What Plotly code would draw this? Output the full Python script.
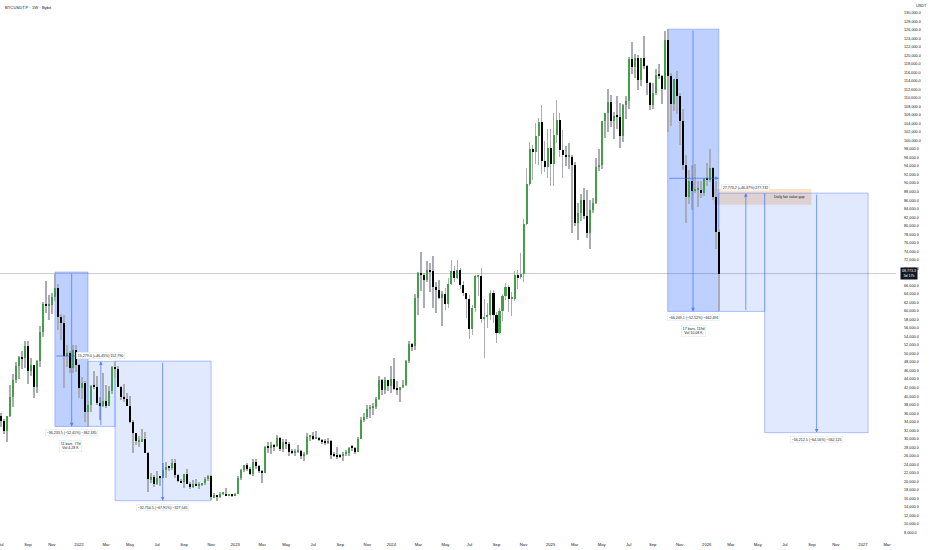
import plotly.graph_objects as go
import pandas as pd

# ---------------- data (weekly candles) ----------------
title_text = "BTCUSDT.P · 1W · Bybit"
week_start = "2021-07-05"
first_open = 35300
highs = [
    35950, 34700, 35400, 42600, 45300, 48100, 49400, 50500, 52950, 52900, 48850, 47300, 48500,
    56550, 62000, 67000, 63700, 64300, 69000, 66300, 59300, 59150, 51950, 50500, 52100, 52100,
    47550, 44450, 43500, 38900, 42650, 45850, 44750, 39850, 45400, 42600, 42350, 47000, 48190,
    47200, 42400, 42950, 40800, 40000, 34300, 31300, 30600, 32200, 31700, 26800, 21900, 21500,
    22500, 21000, 24300, 24650, 23650, 25200, 25200, 21850, 20600, 21850, 22800, 19950, 20350,
    20450, 19950, 19700, 21000, 21450, 21500, 17200, 16800, 17400, 17450, 18400, 17100, 16950,
    17200, 21300, 23000, 23950, 24250, 23450, 25250, 25250, 23900, 22600, 28400, 29200, 29150,
    28800, 31000, 30500, 30050, 29850, 29200, 27650, 27500, 28450, 27300, 26800, 31400, 31000,
    31500, 31800, 30400, 29950, 30000, 30250, 29700, 26800, 28150, 26450, 26850, 27450, 28050,
    28600, 28000, 30350, 35200, 35950, 38000, 37950, 38400, 39700, 44750, 44000, 44400, 43800,
    47000, 49050, 43600, 42250, 43850, 48600, 52850, 52500, 64000, 69150, 73800, 68950, 71800,
    71350, 72800, 66900, 67250, 64750, 65500, 67700, 71950, 70600, 71950, 70200, 66950, 63350,
    63800, 61400, 68350, 68500, 70000, 62700, 61800, 65000, 64950, 59800, 60650, 64100, 66500,
    66000, 64450, 69400, 69500, 73600, 81500, 93450, 99600, 98850, 104000, 105250, 108350, 99950,
    102750, 102700, 106400, 109600, 106450, 102500, 98800, 99500, 96500, 95000, 85300, 87450, 88800,
    88500, 86100, 86450, 95800, 97900, 104350, 105800, 112000, 110700, 106800, 110500, 108900, 108500,
    110500, 119500, 123200, 120200, 120000, 119400, 124450, 117650, 113800, 113400, 116700, 117900, 115400,
    125700, 126200, 115950, 114000, 116400, 111200, 107500, 96650, 93100, 94150, 94600, 90400, 90500,
    91200, 94800, 97900, 93800, 90500, 79300,
]
lows = [
    32700, 31100, 29280, 35200, 37500, 43000, 43950, 46350, 46550, 42800, 44700, 39600, 40750,
    46900, 53900, 59550, 57800, 59400, 62300, 55600, 53250, 42000, 46750, 45450, 45550, 45700,
    39650, 39300, 34000, 32900, 36250, 41650, 38000, 34300, 37450, 37150, 37600, 40500, 44300,
    42100, 39200, 38550, 37600, 33700, 26700, 28650, 28000, 29300, 26600, 17600, 19650, 18650,
    19250, 18900, 20750, 20700, 22400, 22700, 20800, 19800, 19550, 18550, 19350, 18150, 18500,
    19000, 18200, 18900, 19250, 20050, 15600, 16200, 15480, 16000, 16750, 16550, 16550, 16350,
    16550, 17000, 20400, 22300, 22500, 21400, 21350, 22800, 21950, 19550, 21900, 26600, 26500,
    27200, 28150, 27150, 26950, 27700, 25850, 26350, 25900, 26600, 25350, 24800, 26250, 29500,
    29700, 29950, 29500, 28850, 28600, 28750, 25200, 25800, 25350, 25400, 24900, 26000, 26000,
    27200, 26550, 26900, 29850, 33950, 34550, 34850, 35650, 36900, 39000, 40200, 40550, 41300,
    40750, 41500, 40300, 38550, 41900, 42300, 47700, 50600, 50900, 59000, 64600, 60750, 66800,
    64500, 60650, 59600, 62800, 56550, 60200, 60750, 66100, 66700, 67600, 65050, 63400, 58400,
    53500, 54250, 59700, 63450, 57250, 49000, 56100, 57850, 57200, 52550, 54600, 57550, 62650,
    59850, 58900, 62450, 65050, 67500, 66850, 80250, 89400, 90800, 94500, 94150, 92200, 92550,
    91300, 89250, 89300, 99500, 96150, 91250, 94100, 93400, 78200, 80000, 76600, 81200, 81600,
    77100, 74500, 83100, 85150, 92800, 93400, 100700, 102000, 103100, 100400, 102700, 98200, 99700,
    105100, 107500, 115700, 114700, 111900, 112700, 116800, 110600, 107250, 107300, 110600, 114400, 108600,
    111950, 102000, 103500, 106900, 106300, 98950, 93000, 80550, 85200, 83800, 87600, 84500, 86400,
    86900, 89300, 90200, 86000, 74500, 59900,
]
closes = [
    34250, 31780, 35400, 39850, 43800, 47050, 49300, 48900, 51750, 46000, 47250, 42200, 48200,
    54950, 61550, 61300, 61300, 63300, 65500, 58650, 57250, 49400, 50100, 46700, 50800, 47300,
    41850, 43100, 36250, 37900, 42400, 42200, 38400, 37700, 38800, 37800, 41300, 46800, 46400,
    42150, 39700, 39450, 37650, 34050, 31300, 29450, 29450, 29900, 26600, 20550, 21000, 19300,
    20850, 20800, 22600, 23300, 23200, 24300, 21500, 20050, 19800, 21800, 19400, 18800, 19300,
    19050, 19250, 19550, 20600, 21300, 16300, 16700, 16450, 17100, 17100, 16750, 16850, 16600,
    17100, 20900, 22700, 23750, 22950, 21800, 24600, 23500, 22400, 22000, 28000, 27950, 28450,
    28300, 30300, 27600, 29250, 28850, 26900, 26750, 27100, 27100, 25850, 26500, 30500, 30600,
    30150, 30300, 29800, 29250, 29050, 29400, 26100, 26000, 25900, 25850, 26550, 26600, 27950,
    27900, 26900, 29900, 34500, 35000, 37050, 37400, 37450, 39450, 43800, 41350, 43700, 42300,
    43950, 41750, 41600, 42050, 42600, 48300, 52150, 51700, 63100, 68950, 68400, 67200, 69650,
    69350, 65650, 64950, 63100, 63900, 61550, 66250, 69300, 67750, 69650, 66200, 64250, 62700,
    55850, 60800, 68200, 68250, 58100, 58700, 58950, 64150, 58950, 54850, 60000, 63600, 65600,
    62850, 62850, 68350, 67950, 68750, 80350, 89850, 97900, 97200, 101150, 104450, 95300, 93700,
    98300, 94500, 101300, 104800, 97700, 96500, 96150, 96250, 94250, 80700, 83000, 86100, 82400,
    78350, 83750, 85300, 93750, 94300, 104600, 106450, 109000, 104600, 105700, 105600, 100950, 108350,
    109200, 119100, 117300, 119450, 114200, 119300, 117450, 113500, 108250, 111150, 115350, 115250, 112150,
    123500, 115150, 108650, 114500, 110550, 104700, 94200, 86800, 90400, 88200, 88400, 88500, 87800,
    90900, 90800, 93500, 86700, 78600, 68773.3,
]

# price axis / time axis labels
price_ticks = [v for v in range(8000, 130001, 2000) if v != 68000]
axis_unit = "USDT"
last_price_text = "68,773.3<br>3d 17h"

# drawings (TradingView measuring tools)
range_tools = [
    # (x0, x1, p_top, p_bottom, arrow_x, arrow_dir, fill_alpha, hline_price)
    ("2021-11-08", "2022-01-24", 69135, 32901.5, "2021-12-17", "down", 0.30, 49430),
    ("2022-01-24", "2022-03-28", 48180, 32901.5, "2022-02-23", "up", 0.14, None),
    ("2022-03-28", "2022-11-07", 48230, 15475.5, "2022-07-17", "down", 0.14, None),
    ("2025-10-06", "2026-02-02", 126141, 59891.9, "2025-12-04", "down", 0.30, 91140),
    ("2026-02-02", "2026-05-20", 87665, 59891.9, "2026-04-06", "up", 0.14, None),
    ("2026-05-20", "2027-01-16", 87665, 31452, "2026-09-18", "down", 0.14, None),
]
range_labels = [
    "\u221236,233.5 (\u221252.41%) \u2212362,335",
    "15,279.0 (+46.45%) 152,790",
    "\u221232,754.5 (\u221267.91%) \u2212327,545",
    "\u221266,249.1 (\u221252.52%) \u2212662,491",
    "27,773.2 (+46.37%) 277,732",
    "\u221256,212.5 (\u221264.16%) \u2212562,125",
]
bars_labels = [
    ("2021-12-14", 32901.5, "11 bars, 77d<br>Vol 4.28 K"),
    ("2025-12-04", 59891.9, "17 bars, 119d<br>Vol 10.08 K"),
]
fvg_zone = ("2026-01-21", "2026-09-06", 88600, 84900)
fvg_text = "Daily fair value gap"
last_price = closes[-1]

x_range = ["2021-07-03", "2027-03-22"]
y_range = [6249, 132980]

# ---------------- build ----------------
dates = pd.date_range(week_start, periods=len(closes), freq="7D")
opens = [first_open] + closes[:-1]
DAY = 86400000

up_x, up_b, up_h, dn_x, dn_b, dn_h = [], [], [], [], [], []
for d, o, c in zip(dates, opens, closes):
    lo, hi = min(o, c), max(o, c)
    h = max(hi - lo, 250)
    if c >= o:
        up_x.append(d); up_b.append(lo); up_h.append(h)
    else:
        dn_x.append(d); dn_b.append(lo); dn_h.append(h)

fig = go.Figure()
fig.add_trace(go.Bar(x=dates, y=[h - l for h, l in zip(highs, lows)], base=lows,
                     width=2.0 * DAY, marker=dict(color="#a9acb3", line=dict(width=0)),
                     hoverinfo="skip"))
fig.add_trace(go.Bar(x=up_x, y=up_h, base=up_b, width=4.7 * DAY,
                     marker=dict(color="#43a047", line=dict(width=0)), hoverinfo="skip"))
fig.add_trace(go.Bar(x=dn_x, y=dn_h, base=dn_b, width=4.7 * DAY,
                     marker=dict(color="#000000", line=dict(width=0)), hoverinfo="skip"))

shapes = []
annotations = []
BLUE = "41,98,255"
FONT = "Liberation Sans"

shapes.append(dict(type="line", xref="paper", x0=0, x1=1, yref="y", y0=last_price, y1=last_price,
                   line=dict(color="#b2b5be", width=0.7), layer="below"))

shapes.append(dict(type="rect", xref="x", yref="y", x0=fvg_zone[0], x1=fvg_zone[1],
                   y0=fvg_zone[3], y1=fvg_zone[2], fillcolor="rgba(245,166,80,0.30)",
                   line=dict(width=0), layer="below"))
annotations.append(dict(x=fvg_zone[1], y=(fvg_zone[2] + fvg_zone[3]) / 2, xref="x", yref="y",
                        text=fvg_text, showarrow=False, xanchor="right", xshift=-4,
                        font=dict(size=3.6, color="#131722", family=FONT)))

for (x0, x1, pt, pb, ax_, dirn, alpha, hp), lab in zip(range_tools, range_labels):
    shapes.append(dict(type="rect", xref="x", yref="y", x0=x0, x1=x1, y0=pb, y1=pt,
                       fillcolor=f"rgba({BLUE},{alpha})",
                       line=dict(color=f"rgba({BLUE},0.45)", width=0.8), layer="below"))
    if dirn == "down":
        head, tail = pb, pt
    else:
        head, tail = pt, pb
    annotations.append(dict(x=ax_, y=head, ax=ax_, ay=tail, xref="x", yref="y", axref="x", ayref="y",
                            text="", showarrow=True, arrowhead=2, arrowsize=0.9, arrowwidth=0.8,
                            arrowcolor=f"rgba({BLUE},0.75)"))
    if hp is not None:
        annotations.append(dict(x=x1, y=hp, ax=x0, ay=hp, xref="x", yref="y", axref="x", ayref="y",
                                text="", showarrow=True, arrowhead=2, arrowsize=0.9, arrowwidth=0.8,
                                arrowcolor=f"rgba({BLUE},0.75)"))
    if dirn == "down":
        annotations.append(dict(x=ax_, y=pb, xref="x", yref="y", text=lab, showarrow=False,
                                yanchor="top", yshift=-3, bgcolor="white", bordercolor="#e0e3eb",
                                borderwidth=0.5, borderpad=1.2,
                                font=dict(size=3.6, color="#131722", family=FONT)))
    else:
        annotations.append(dict(x=ax_, y=pt, xref="x", yref="y", text=lab, showarrow=False,
                                yanchor="bottom", yshift=2, bgcolor="white", bordercolor="#e0e3eb",
                                borderwidth=0.5, borderpad=1.2,
                                font=dict(size=3.6, color="#131722", family=FONT)))

for bx, bp, bt in bars_labels:
    annotations.append(dict(x=bx, y=bp, xref="x", yref="y", text=bt, showarrow=False,
                            yanchor="top", yshift=-14, bgcolor="white", bordercolor="#e0e3eb",
                            borderwidth=0.5, borderpad=1.2,
                            font=dict(size=3.6, color="#131722", family=FONT)))

annotations.append(dict(x=0.003, y=0.995, xref="paper", yref="paper", text=title_text,
                        showarrow=False, xanchor="left", yanchor="top",
                        font=dict(size=4.2, color="#131722", family=FONT)))
annotations.append(dict(x=1, y=1, xref="paper", yref="paper", text=axis_unit,
                        showarrow=False, xanchor="left", yanchor="top", xshift=18, yshift=-2,
                        font=dict(size=3.8, color="#131722", family=FONT)))
annotations.append(dict(x=1, y=last_price, xref="paper", yref="y", text=last_price_text,
                        showarrow=False, xanchor="left", xshift=4, bgcolor="#131722",
                        borderpad=1, font=dict(size=3.6, color="white", family=FONT)))

# time axis labels sit on the first weekly bar of every second month
month_starts = pd.date_range("2021-07-01", "2027-05-01", freq="2MS")
tick_dates = [m + pd.Timedelta(days=(7 - m.weekday()) % 7) for m in month_starts]
tick_text = [str(m.year) if m.month == 1 else m.strftime("%b") for m in month_starts]

fig.update_layout(
    width=932, height=550,
    margin=dict(l=0, r=36, t=0, b=10),
    paper_bgcolor="white", plot_bgcolor="white",
    barmode="overlay", showlegend=False, bargap=0,
    shapes=shapes, annotations=annotations,
    font=dict(family=FONT, size=4, color="#131722"),
    xaxis=dict(type="date", range=x_range, tickvals=tick_dates, ticktext=tick_text,
               showgrid=False, zeroline=False, showline=False, ticks="", automargin=False,
               ticklabeloverflow="allow",
               tickfont=dict(size=4.2, color="#131722"), ticklabelstandoff=1),
    yaxis=dict(side="right", range=y_range, tickvals=price_ticks, automargin=False,
               ticktext=[f"{v:,.1f}" for v in price_ticks], showgrid=False, zeroline=False,
               showline=False, ticks="", tickfont=dict(size=3.8, color="#131722"),
               ticklabelstandoff=7),
)

fig.write_html("out.html", config={"displayModeBar": False},
               post_script="document.body.style.margin='0';document.body.style.overflow='hidden';")
